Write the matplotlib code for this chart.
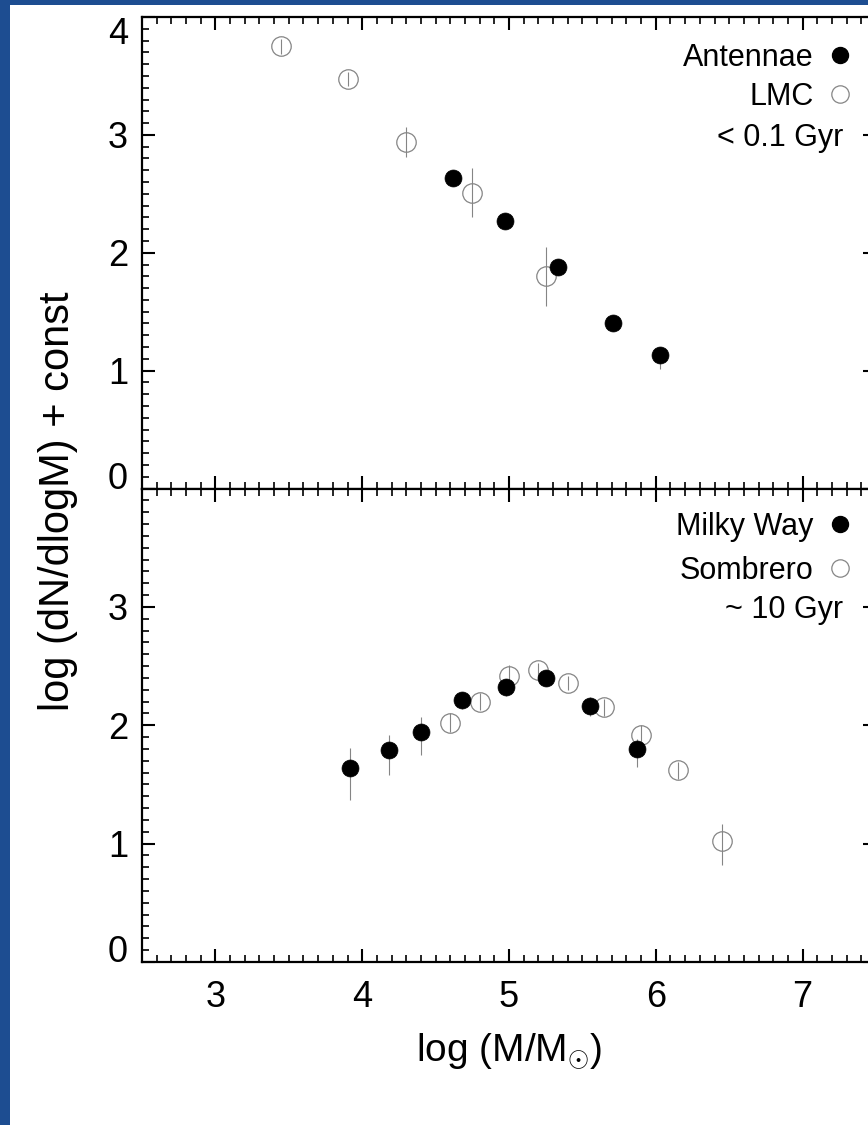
import matplotlib
matplotlib.use('Agg')
import matplotlib.pyplot as plt
from matplotlib.ticker import MultipleLocator
from matplotlib.lines import Line2D
from matplotlib.patches import Rectangle
import matplotlib.transforms as mtransforms

plt.rcParams['font.family'] = ['Liberation Sans', 'DejaVu Sans']
plt.rcParams['mathtext.fontset'] = 'custom'
plt.rcParams['mathtext.rm'] = 'Liberation Sans'
plt.rcParams['mathtext.it'] = 'Liberation Sans:italic'
plt.rcParams['mathtext.bf'] = 'Liberation Sans:bold'

# ---------------- data ----------------
# top panel: young clusters (< 0.1 Gyr)
lmc_x = [3.45, 3.90, 4.30, 4.75, 5.25]
lmc_y = [3.75, 3.475, 2.94, 2.51, 1.80]
lmc_err = [0.06, 0.06, 0.125, 0.21, 0.25]

ant_x = [4.62, 4.97, 5.335, 5.71, 6.03]
ant_y = [2.63, 2.27, 1.875, 1.40, 1.13]
ant_err_lo = [0.03, 0.03, 0.04, 0.04, 0.12]
ant_err_hi = [0.03, 0.03, 0.04, 0.04, 0.05]

# bottom panel: old globular clusters (~ 10 Gyr)
mw_x = [3.92, 4.18, 4.40, 4.68, 4.98, 5.25, 5.55, 5.87]
mw_y = [1.64, 1.79, 1.94, 2.21, 2.32, 2.40, 2.16, 1.80]
mw_err_lo = [0.27, 0.21, 0.19, 0.07, 0.07, 0.05, 0.08, 0.15]
mw_err_hi = [0.17, 0.13, 0.13, 0.07, 0.07, 0.05, 0.08, 0.08]

som_x = [4.60, 4.80, 5.00, 5.20, 5.40, 5.65, 5.90, 6.15, 6.45]
som_y = [2.02, 2.20, 2.415, 2.47, 2.36, 2.15, 1.92, 1.62, 1.02]
som_err_lo = [0.08, 0.07, 0.07, 0.06, 0.06, 0.07, 0.08, 0.07, 0.20]
som_err_hi = [0.08, 0.07, 0.09, 0.06, 0.06, 0.07, 0.08, 0.07, 0.15]

x_ticks = [3, 4, 5, 6, 7]
y_ticks = [0, 1, 2, 3, 4]
top_labels = ['Antennae', 'LMC']
top_age = '< 0.1 Gyr'
bot_labels = ['Milky Way', 'Sombrero']
bot_age = '~ 10 Gyr'

# ---------------- figure ----------------
W, H = 868, 1125
BLUE = '#1d4d91'
GRAY = '#858585'
fig = plt.figure(figsize=(W / 100, H / 100), dpi=100, facecolor=BLUE)
fig.add_artist(Rectangle((10 / W, 0), 1, 1 - 5 / H, transform=fig.transFigure,
                         facecolor='white', edgecolor='none', zorder=-10))

left_px, right_px = 142, 876
top_px, mid_px, bot_px = 17, 488.5, 962
L = left_px / W
Wd = (right_px - left_px) / W
ax_top = fig.add_axes([L, 1 - mid_px / H, Wd, (mid_px - top_px) / H])
ax_bot = fig.add_axes([L, 1 - bot_px / H, Wd, (bot_px - mid_px) / H])

ms_open, ms_fill = 14, 12.2


def style(ax, show_x):
    ax.set_xlim(2.5, 7.5)
    ax.set_ylim(0, 4)
    ax.set_facecolor('white')
    for s in ax.spines.values():
        s.set_linewidth(1.6)
    ax.xaxis.set_major_locator(MultipleLocator(1))
    ax.xaxis.set_minor_locator(MultipleLocator(0.1))
    ax.yaxis.set_major_locator(MultipleLocator(1))
    ax.yaxis.set_minor_locator(MultipleLocator(0.1))
    ax.tick_params(which='both', direction='in', top=True, right=True,
                   bottom=True, left=True, labelsize=26)
    ax.tick_params(which='major', length=9.5, width=1.5)
    ax.tick_params(which='minor', length=4.8, width=1.2)
    ax.tick_params(axis='y', pad=10)
    ax.tick_params(axis='x', pad=13, labelbottom=show_x)


style(ax_top, False)
style(ax_bot, True)
ax_top.set_yticks(y_ticks, [str(v) for v in y_ticks])
ax_bot.set_yticks(y_ticks, [str(v) for v in y_ticks[:-1]] + [''])
ax_bot.set_xticks(x_ticks, [str(v) for v in x_ticks])

tt = ax_top.yaxis.get_major_ticks()
tt[-1].label1.set_va('top')
tt[0].label1.set_va('baseline')
tb = ax_bot.yaxis.get_major_ticks()
tb[0].label1.set_va('baseline')

err_kw = dict(ls='none', ecolor=GRAY, elinewidth=0.8, capsize=0)

# top panel
ax_top.errorbar(lmc_x, lmc_y, yerr=lmc_err, fmt='o', ms=ms_open,
                mfc='none', mec=GRAY, mew=0.9, **err_kw, zorder=3)
ax_top.errorbar(ant_x, ant_y, yerr=[ant_err_lo, ant_err_hi], fmt='o', ms=ms_fill,
                mfc='black', mec='black', mew=0.5, **err_kw, zorder=4)

# bottom panel
ax_bot.errorbar(som_x, som_y, yerr=[som_err_lo, som_err_hi], fmt='o', ms=ms_open,
                mfc='none', mec=GRAY, mew=0.9, **err_kw, zorder=3)
ax_bot.errorbar(mw_x, mw_y, yerr=[mw_err_lo, mw_err_hi], fmt='o', ms=ms_fill,
                mfc='black', mec='black', mew=0.5, **err_kw, zorder=4)

# legends
h_fill = Line2D([], [], ls='none', marker='o', ms=11.5, mfc='black', mec='black')
h_open = Line2D([], [], ls='none', marker='o', ms=12.5, mfc='none', mec=GRAY, mew=0.9)
leg_kw = dict(loc='upper right', bbox_transform=fig.transFigure, frameon=False,
              markerfirst=False, fontsize=22, handlelength=0.8, handletextpad=0.45,
              borderpad=0, borderaxespad=0)
ax_top.legend([h_fill, h_open], top_labels, bbox_to_anchor=(852 / W, 1 - 43 / H),
              labelspacing=0.28, **leg_kw)
ax_bot.legend([h_fill, h_open], bot_labels, bbox_to_anchor=(852 / W, 1 - 511.5 / H),
              labelspacing=0.46, **leg_kw)

for ax, txt in ((ax_top, top_age), (ax_bot, bot_age)):
    tr = mtransforms.blended_transform_factory(ax.transAxes, ax.transData)
    ax.text((843 - left_px) / (right_px - left_px), 3, txt, transform=tr,
            ha='right', va='center_baseline', fontsize=22)

fig.text(58 / W, 1 - 501 / H, 'log (dN/dlogM) + const', rotation=90,
         ha='center', va='center', fontsize=30)
fig.text(509 / W, 1 - 1061 / H, r'log (M/M$_{\odot}$)', ha='center',
         va='baseline', fontsize=28)

fig.savefig('out.png', dpi=100, facecolor=BLUE)
